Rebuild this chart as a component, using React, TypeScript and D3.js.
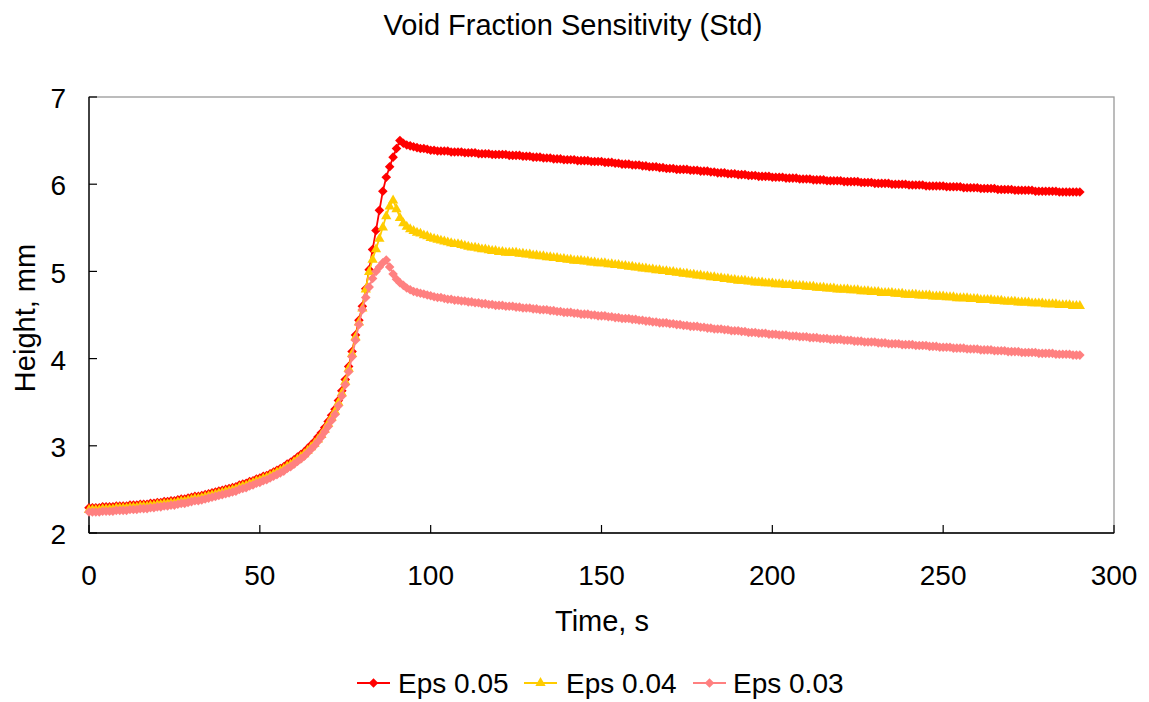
import React from "react";
import * as d3 from "d3";

const chartTitle = "Void Fraction Sensitivity (Std)";
const xLabel = "Time, s";
const yLabel = "Height, mm";
const xTicks = [0, 50, 100, 150, 200, 250, 300];
const yTicks = [2, 3, 4, 5, 6, 7];
const seriesNames = ["Eps 0.05", "Eps 0.04", "Eps 0.03"];

// time in seconds, one sample per second (0..290)
const times = d3.range(0, 291);

const eps005 = [
  2.29, 2.29, 2.29, 2.29, 2.30, 2.30, 2.30, 2.30, 2.31, 2.31,
  2.31, 2.31, 2.32, 2.32, 2.32, 2.33, 2.33, 2.33, 2.34, 2.34,
  2.35, 2.35, 2.36, 2.36, 2.37, 2.37, 2.38, 2.39, 2.39, 2.40,
  2.41, 2.42, 2.42, 2.43, 2.44, 2.45, 2.46, 2.47, 2.48, 2.49,
  2.50, 2.51, 2.52, 2.53, 2.55, 2.56, 2.57, 2.59, 2.60, 2.62,
  2.63, 2.65, 2.66, 2.68, 2.70, 2.72, 2.74, 2.76, 2.79, 2.81,
  2.84, 2.87, 2.90, 2.93, 2.97, 3.01, 3.05, 3.10, 3.15, 3.21,
  3.28, 3.35, 3.42, 3.52, 3.63, 3.76, 3.91, 4.08, 4.27, 4.44,
  4.60, 4.80, 5.02, 5.25, 5.47, 5.70, 5.92, 6.08, 6.20, 6.31, 6.41, 6.50,
  6.47, 6.45, 6.44, 6.43, 6.42, 6.41, 6.41, 6.40, 6.39,
  6.39, 6.38, 6.38, 6.38, 6.38, 6.37, 6.37, 6.37, 6.37, 6.36,
  6.36, 6.36, 6.36, 6.35, 6.35, 6.35, 6.35, 6.34, 6.34, 6.34,
  6.34, 6.34, 6.33, 6.33, 6.33, 6.33, 6.32, 6.32, 6.32, 6.31,
  6.31, 6.31, 6.30, 6.30, 6.30, 6.29, 6.29, 6.29, 6.28, 6.28,
  6.28, 6.28, 6.27, 6.27, 6.27, 6.27, 6.26, 6.26, 6.26, 6.26,
  6.25, 6.25, 6.25, 6.24, 6.24, 6.23, 6.23, 6.23, 6.22, 6.22,
  6.22, 6.21, 6.21, 6.20, 6.20, 6.20, 6.19, 6.19, 6.18, 6.18,
  6.18, 6.17, 6.17, 6.17, 6.17, 6.16, 6.16, 6.16, 6.15, 6.15,
  6.15, 6.14, 6.14, 6.13, 6.13, 6.13, 6.12, 6.12, 6.12, 6.11,
  6.11, 6.11, 6.10, 6.10, 6.10, 6.09, 6.09, 6.09, 6.09, 6.08,
  6.08, 6.08, 6.08, 6.07, 6.07, 6.07, 6.07, 6.06, 6.06, 6.06,
  6.06, 6.05, 6.05, 6.05, 6.05, 6.04, 6.04, 6.04, 6.04, 6.04,
  6.03, 6.03, 6.03, 6.03, 6.03, 6.02, 6.02, 6.02, 6.02, 6.01,
  6.01, 6.01, 6.01, 6.01, 6.00, 6.00, 6.00, 6.00, 6.00, 5.99,
  5.99, 5.99, 5.99, 5.99, 5.98, 5.98, 5.98, 5.98, 5.98, 5.98,
  5.97, 5.97, 5.97, 5.97, 5.97, 5.96, 5.96, 5.96, 5.96, 5.96,
  5.95, 5.95, 5.95, 5.95, 5.95, 5.94, 5.94, 5.94, 5.94, 5.94,
  5.93, 5.93, 5.93, 5.93, 5.93, 5.93, 5.92, 5.92, 5.92, 5.92,
  5.92, 5.92, 5.92, 5.91, 5.91, 5.91, 5.91, 5.91, 5.91, 5.91,
];

const eps004 = [
  2.27, 2.27, 2.27, 2.27, 2.28, 2.28, 2.28, 2.28, 2.29, 2.29,
  2.29, 2.29, 2.30, 2.30, 2.30, 2.31, 2.31, 2.31, 2.32, 2.32,
  2.33, 2.33, 2.34, 2.34, 2.35, 2.35, 2.36, 2.37, 2.37, 2.38,
  2.39, 2.40, 2.40, 2.41, 2.42, 2.43, 2.44, 2.45, 2.46, 2.47,
  2.48, 2.49, 2.50, 2.51, 2.53, 2.54, 2.55, 2.57, 2.58, 2.60,
  2.61, 2.63, 2.64, 2.66, 2.68, 2.70, 2.72, 2.74, 2.77, 2.79,
  2.82, 2.85, 2.88, 2.91, 2.95, 2.99, 3.03, 3.08, 3.13, 3.19,
  3.26, 3.33, 3.40, 3.50, 3.61, 3.74, 3.89, 4.06, 4.25, 4.42,
  4.58, 4.80, 5.00, 5.14, 5.26, 5.38, 5.51, 5.64, 5.75, 5.82,
  5.72, 5.62, 5.56, 5.52, 5.49, 5.47, 5.45, 5.44, 5.42, 5.41, 5.39,
  5.38, 5.37, 5.36, 5.35, 5.34, 5.33, 5.32, 5.32, 5.31, 5.30,
  5.29, 5.28, 5.28, 5.27, 5.26, 5.26, 5.25, 5.24, 5.24, 5.23,
  5.23, 5.22, 5.22, 5.22, 5.22, 5.21, 5.21, 5.20, 5.20, 5.19,
  5.19, 5.18, 5.18, 5.17, 5.17, 5.16, 5.16, 5.15, 5.15, 5.14,
  5.14, 5.13, 5.13, 5.13, 5.12, 5.12, 5.11, 5.11, 5.10, 5.10,
  5.10, 5.09, 5.09, 5.08, 5.08, 5.07, 5.07, 5.06, 5.06, 5.05,
  5.05, 5.04, 5.04, 5.03, 5.03, 5.02, 5.02, 5.01, 5.01, 5.00,
  5.00, 4.99, 4.99, 4.98, 4.98, 4.97, 4.97, 4.96, 4.96, 4.95,
  4.95, 4.94, 4.94, 4.93, 4.93, 4.92, 4.92, 4.91, 4.91, 4.90,
  4.90, 4.90, 4.89, 4.89, 4.88, 4.88, 4.88, 4.87, 4.87, 4.87,
  4.86, 4.86, 4.86, 4.85, 4.85, 4.85, 4.84, 4.84, 4.84, 4.83,
  4.83, 4.83, 4.82, 4.82, 4.82, 4.81, 4.81, 4.81, 4.80, 4.80,
  4.80, 4.80, 4.79, 4.79, 4.79, 4.78, 4.78, 4.78, 4.77, 4.77,
  4.77, 4.76, 4.76, 4.76, 4.76, 4.75, 4.75, 4.75, 4.74, 4.74,
  4.74, 4.74, 4.73, 4.73, 4.73, 4.73, 4.72, 4.72, 4.72, 4.72,
  4.71, 4.71, 4.71, 4.70, 4.70, 4.70, 4.70, 4.69, 4.69, 4.69,
  4.68, 4.68, 4.68, 4.68, 4.67, 4.67, 4.67, 4.66, 4.66, 4.66,
  4.66, 4.65, 4.65, 4.65, 4.65, 4.64, 4.64, 4.64, 4.64, 4.63,
  4.63, 4.63, 4.63, 4.62, 4.62, 4.62, 4.62, 4.61, 4.61, 4.61,
];

const eps003 = [
  2.24, 2.24, 2.24, 2.24, 2.25, 2.25, 2.25, 2.25, 2.26, 2.26,
  2.26, 2.26, 2.27, 2.27, 2.27, 2.28, 2.28, 2.28, 2.29, 2.29,
  2.30, 2.30, 2.31, 2.31, 2.32, 2.32, 2.33, 2.34, 2.34, 2.35,
  2.36, 2.37, 2.37, 2.38, 2.39, 2.40, 2.41, 2.42, 2.43, 2.44,
  2.45, 2.46, 2.47, 2.48, 2.50, 2.51, 2.52, 2.54, 2.55, 2.57,
  2.58, 2.60, 2.61, 2.63, 2.65, 2.67, 2.69, 2.71, 2.74, 2.76,
  2.79, 2.82, 2.85, 2.88, 2.92, 2.96, 3.00, 3.05, 3.10, 3.16,
  3.22, 3.29, 3.36, 3.46, 3.57, 3.70, 3.85, 4.02, 4.21, 4.39,
  4.56, 4.70, 4.82, 4.92, 5.00, 5.05, 5.10, 5.13, 5.05, 4.97,
  4.91, 4.87, 4.84, 4.81, 4.79, 4.77, 4.76, 4.75, 4.74, 4.73, 4.72,
  4.71, 4.70, 4.70, 4.69, 4.68, 4.68, 4.67, 4.67, 4.66, 4.66,
  4.65, 4.65, 4.64, 4.64, 4.63, 4.63, 4.62, 4.62, 4.61, 4.61,
  4.61, 4.60, 4.60, 4.60, 4.59, 4.59, 4.58, 4.58, 4.58, 4.57,
  4.57, 4.56, 4.56, 4.56, 4.55, 4.55, 4.54, 4.54, 4.53, 4.53,
  4.53, 4.52, 4.52, 4.51, 4.51, 4.51, 4.50, 4.50, 4.49, 4.49,
  4.49, 4.48, 4.48, 4.47, 4.47, 4.46, 4.46, 4.46, 4.45, 4.45,
  4.44, 4.44, 4.43, 4.43, 4.42, 4.42, 4.41, 4.41, 4.41, 4.40,
  4.40, 4.39, 4.39, 4.38, 4.38, 4.37, 4.37, 4.37, 4.36, 4.36,
  4.35, 4.35, 4.34, 4.34, 4.34, 4.33, 4.33, 4.32, 4.32, 4.32,
  4.31, 4.31, 4.30, 4.30, 4.30, 4.29, 4.29, 4.29, 4.28, 4.28,
  4.28, 4.27, 4.27, 4.27, 4.26, 4.26, 4.26, 4.25, 4.25, 4.25,
  4.24, 4.24, 4.24, 4.23, 4.23, 4.23, 4.22, 4.22, 4.22, 4.22,
  4.21, 4.21, 4.21, 4.20, 4.20, 4.20, 4.19, 4.19, 4.19, 4.19,
  4.18, 4.18, 4.18, 4.17, 4.17, 4.17, 4.17, 4.16, 4.16, 4.16,
  4.16, 4.15, 4.15, 4.15, 4.15, 4.14, 4.14, 4.14, 4.13, 4.13,
  4.13, 4.13, 4.12, 4.12, 4.12, 4.12, 4.11, 4.11, 4.11, 4.11,
  4.10, 4.10, 4.10, 4.10, 4.09, 4.09, 4.09, 4.09, 4.08, 4.08,
  4.08, 4.08, 4.07, 4.07, 4.07, 4.07, 4.07, 4.06, 4.06, 4.06,
  4.06, 4.06, 4.05, 4.05, 4.05, 4.05, 4.05, 4.04, 4.04, 4.04,
];

const W = 1141;
const H = 694;
const M = { left: 81, top: 89, right: 1106, bottom: 525 };
const FONT = "'Liberation Sans', Arial, sans-serif";
const FS = 28;

const series = [
  { name: seriesNames[0], values: eps005, color: "#FF0000", marker: "diamond" },
  { name: seriesNames[1], values: eps004, color: "#FFCC00", marker: "triangle" },
  { name: seriesNames[2], values: eps003, color: "#FF8080", marker: "diamond" },
];

const x = d3.scaleLinear().domain([0, 300]).range([M.left, M.right]);
const y = d3.scaleLinear().domain([2, 7]).range([M.bottom, M.top]);

function markerPath(kind: string): string {
  if (kind === "triangle") {
    return d3.symbol().type(d3.symbolTriangle).size(46)() as string;
  }
  return "M0,-4.8L4.8,0L0,4.8L-4.8,0Z";
}

export default function App() {
  const line = d3
    .line<number>()
    .x((_, i) => x(times[i]))
    .y((d) => y(d));

  return (
    <svg width={W} height={H} style={{ display: "block", margin: 0 }}>
      <rect x={0} y={0} width={W} height={H} fill="#fff" />
      <text x={565} y={27} textAnchor="middle" fontFamily={FONT} fontSize={29}>
        {chartTitle}
      </text>

      {/* plot frame */}
      <rect
        x={M.left}
        y={M.top}
        width={M.right - M.left}
        height={M.bottom - M.top}
        fill="none"
        stroke="#999"
        strokeWidth={1.3}
      />
      <line x1={M.left} x2={M.left} y1={M.top} y2={M.bottom} stroke="#000" strokeWidth={1.3} />
      <line x1={M.left} x2={M.right} y1={M.bottom} y2={M.bottom} stroke="#000" strokeWidth={1.3} />

      {yTicks.map((t) => (
        <g key={"y" + t}>
          <line x1={M.left} x2={M.left + 8} y1={y(t)} y2={y(t)} stroke="#000" strokeWidth={1.2} />
          <text
            x={M.left - 23}
            y={y(t)}
            dy="0.4em"
            textAnchor="end"
            fontFamily={FONT}
            fontSize={FS}
          >
            {t}
          </text>
        </g>
      ))}
      {xTicks.map((t) => (
        <g key={"x" + t}>
          <line x1={x(t)} x2={x(t)} y1={M.bottom} y2={M.bottom - 8} stroke="#000" strokeWidth={1.2} />
          <text x={x(t)} y={M.bottom + 52} textAnchor="middle" fontFamily={FONT} fontSize={FS}>
            {t}
          </text>
        </g>
      ))}

      <text
        transform={`translate(27,310) rotate(-90)`}
        textAnchor="middle"
        fontFamily={FONT}
        fontSize={29}
      >
        {yLabel}
      </text>
      <text x={594} y={M.bottom + 98} textAnchor="middle" fontFamily={FONT} fontSize={29}>
        {xLabel}
      </text>

      {series.map((s) => (
        <g key={s.name}>
          <path d={line(s.values) as string} fill="none" stroke={s.color} strokeWidth={1.8} />
          {s.values.map((v, i) => (
            <path
              key={i}
              d={markerPath(s.marker)}
              transform={`translate(${x(times[i])},${y(v) + (s.marker === "triangle" ? 0.6 : 0)})`}
              fill={s.color}
            />
          ))}
        </g>
      ))}

      {/* legend */}
      {series.map((s, i) => {
        const lx = [349, 516, 685][i];
        const tx = [390, 558, 725][i];
        const ly = 675;
        return (
          <g key={"lg" + s.name}>
            <line x1={lx} x2={lx + 33} y1={ly} y2={ly} stroke={s.color} strokeWidth={1.8} />
            <path d={markerPath(s.marker)} transform={`translate(${lx + 16.5},${ly})`} fill={s.color} />
            <text x={tx} y={ly} dy="0.36em" fontFamily={FONT} fontSize={FS}>
              {s.name}
            </text>
          </g>
        );
      })}
    </svg>
  );
}
